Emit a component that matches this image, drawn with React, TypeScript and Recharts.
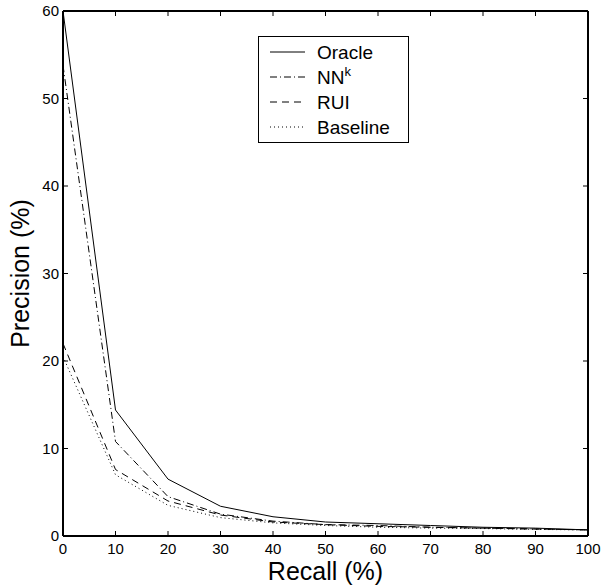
import React from 'react';
import { LineChart, Line, XAxis, YAxis, Legend } from 'recharts';

const recall = [0, 10, 20, 30, 40, 50, 60, 70, 80, 90, 100];
const oracle = [60, 14.4, 6.5, 3.4, 2.2, 1.6, 1.4, 1.2, 1.0, 0.9, 0.7];
const nnk = [53.8, 10.8, 4.5, 2.5, 1.7, 1.3, 1.2, 1.0, 0.9, 0.8, 0.7];
const rui = [22, 7.6, 4.0, 2.4, 1.6, 1.3, 1.1, 1.0, 0.9, 0.8, 0.7];
const baseline = [20.5, 7.0, 3.5, 2.1, 1.5, 1.2, 1.0, 0.9, 0.85, 0.75, 0.7];
const xTicks = [0, 10, 20, 30, 40, 50, 60, 70, 80, 90, 100];
const yTicks = [0, 10, 20, 30, 40, 50, 60];

const data = recall.map((r, i) => ({
  recall: r,
  oracle: oracle[i],
  nnk: nnk[i],
  rui: rui[i],
  baseline: baseline[i],
}));

const series = [
  { key: 'oracle', name: 'Oracle', dash: undefined },
  { key: 'nnk', name: 'NN', sup: 'k', dash: '7 3 1 3' },
  { key: 'rui', name: 'RUI', dash: '7 5' },
  { key: 'baseline', name: 'Baseline', dash: '1 3' },
];

const FONT = '"Liberation Sans", Arial, Helvetica, sans-serif';
const frame = { stroke: '#000', strokeWidth: 2 };

const BottomTick = (props: any) => {
  const { x, y, payload } = props;
  return (
    <g>
      <line x1={x} x2={x} y1={y} y2={y - 5} stroke="#000" strokeWidth={1} />
      <text x={x} y={y + 18} textAnchor="middle" fontSize={15} fontFamily={FONT} fill="#000">
        {payload.value}
      </text>
    </g>
  );
};

const TopTick = (props: any) => {
  const { x, y } = props;
  return <line x1={x} x2={x} y1={y} y2={y + 5} stroke="#000" strokeWidth={1} />;
};

const LeftTick = (props: any) => {
  const { x, y, payload } = props;
  return (
    <g>
      <line x1={x} x2={x + 5} y1={y} y2={y} stroke="#000" strokeWidth={1} />
      <text x={x - 4} y={y + 5} textAnchor="end" fontSize={15} fontFamily={FONT} fill="#000">
        {payload.value}
      </text>
    </g>
  );
};

const RightTick = (props: any) => {
  const { x, y } = props;
  return <line x1={x} x2={x - 5} y1={y} y2={y} stroke="#000" strokeWidth={1} />;
};

const XTitle = (props: any) => {
  const { viewBox } = props;
  return (
    <text x={viewBox.x + viewBox.width / 2} y={580} textAnchor="middle" fontSize={25} fontFamily={FONT} fill="#000">
      Recall (%)
    </text>
  );
};

const YTitle = (props: any) => {
  const { viewBox } = props;
  const cy = viewBox.y + viewBox.height / 2;
  return (
    <text
      x={20}
      y={cy}
      transform={`rotate(-90 20 ${cy})`}
      textAnchor="middle"
      dominantBaseline="central"
      fontSize={25}
      fontFamily={FONT}
      fill="#000"
    >
      Precision (%)
    </text>
  );
};

const LegendBox = () => (
  <svg width={151} height={107} style={{ display: 'block' }}>
    <rect x={0.5} y={0.5} width={150} height={106} fill="#fff" stroke="#000" strokeWidth={1} />
    {series.map((s, i) => {
      const cy = 16 + i * 25;
      return (
        <g key={s.key}>
          <line x1={12} x2={47} y1={cy} y2={cy} stroke="#000" strokeWidth={1} strokeDasharray={s.dash} />
          <text x={59} y={cy + 7} fontSize={19} fontFamily={FONT} fill="#000">
            {s.name}
            {s.sup && (
              <tspan dy={-8} fontSize={13}>
                {s.sup}
              </tspan>
            )}
          </text>
        </g>
      );
    })}
  </svg>
);

export default function App() {
  return (
    <div style={{ position: 'absolute', left: 0, top: 0, background: '#fff' }}>
      <LineChart width={604} height={588} data={data} margin={{ top: 10, right: 15, bottom: 0, left: 0 }}>
        <XAxis
          xAxisId="b"
          dataKey="recall"
          type="number"
          domain={[0, 100]}
          ticks={xTicks}
          height={52}
          tickSize={0}
          tickMargin={0}
          tick={<BottomTick />}
          axisLine={frame}
          label={<XTitle />}
          allowDataOverflow
        />
        <XAxis
          xAxisId="t"
          dataKey="recall"
          orientation="top"
          type="number"
          domain={[0, 100]}
          ticks={xTicks}
          height={1}
          tickSize={0}
          tickMargin={0}
          tick={<TopTick />}
          axisLine={frame}
          allowDataOverflow
        />
        <YAxis
          yAxisId="l"
          type="number"
          domain={[0, 60]}
          ticks={yTicks}
          width={63}
          tickSize={0}
          tickMargin={0}
          tick={<LeftTick />}
          axisLine={frame}
          label={<YTitle />}
          allowDataOverflow
        />
        <YAxis
          yAxisId="r"
          orientation="right"
          type="number"
          domain={[0, 60]}
          ticks={yTicks}
          width={1}
          tickSize={0}
          tickMargin={0}
          tick={<RightTick />}
          axisLine={frame}
          allowDataOverflow
        />
        <Legend
          layout="vertical"
          align="center"
          verticalAlign="middle"
          content={<LegendBox />}
          wrapperStyle={{ position: 'absolute', left: 258, top: 36, width: 151, height: 107 }}
        />
        {/* invisible series so the top / right frame axes get drawn */}
        <Line
          xAxisId="t"
          yAxisId="r"
          dataKey="oracle"
          stroke="none"
          dot={false}
          activeDot={false}
          legendType="none"
          isAnimationActive={false}
        />
        {series.map((s) => (
          <Line
            key={s.key}
            xAxisId="b"
            yAxisId="l"
            dataKey={s.key}
            name={s.name}
            type="linear"
            stroke="#000"
            strokeWidth={1}
            strokeDasharray={s.dash}
            dot={false}
            activeDot={false}
            isAnimationActive={false}
          />
        ))}
      </LineChart>
    </div>
  );
}
